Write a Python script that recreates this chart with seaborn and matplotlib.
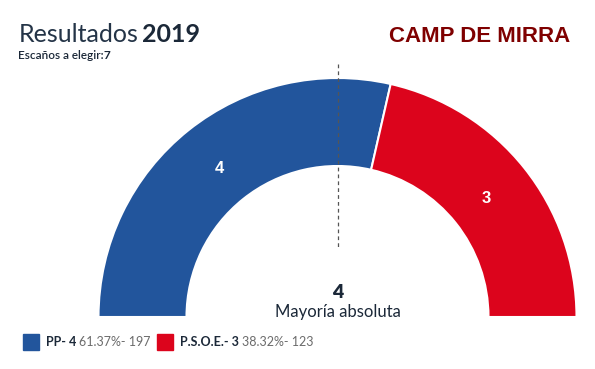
import matplotlib
matplotlib.use("Agg")
import matplotlib.pyplot as plt
import seaborn as sns
import numpy as np

# Datos
partidos = ["PP", "P.S.O.E."]
escanos = [4, 3]
porcentajes = [61.37, 38.32]
votos = [197, 123]
colores = ["#22559C", "#DC041C"]
total_escanos = 7
mayoria = 4
anio = "2019"
municipio = "CAMP DE MIRRA"

sns.set_theme(style="white")
plt.rcParams['font.family'] = ['Lato', 'DejaVu Sans']

W, H = 595, 369
fig = plt.figure(figsize=(W / 100, H / 100), dpi=100)
ax = fig.add_axes([0, 0, 1, 1])

# semicirculo: coordenadas en pixeles (y hacia arriba)
cx, cy = 337.5, H - 317
r_ext, r_int = 239, 151

fracs = [e / total_escanos / 2 for e in escanos]
wedges, _ = ax.pie(fracs, colors=colores, startangle=180, counterclock=False,
                   radius=r_ext, center=(cx, cy), normalize=False, frame=True,
                   wedgeprops={'width': r_ext - r_int, 'edgecolor': 'white', 'linewidth': 1.5})

# etiquetas de escanos dentro de cada sector
for w, e in zip(wedges, escanos):
    ang = np.deg2rad((w.theta1 + w.theta2) / 2)
    rr = 190
    ax.text(cx + rr * np.cos(ang), cy + rr * np.sin(ang), str(e),
            color='white', fontsize=12, fontweight='bold', family='Liberation Sans',
            ha='center', va='center')

# linea de mayoria
ax.plot([cx, cx], [H - 64, H - 247], color='#555555', lw=0.9, ls=(0, (3, 2.5)))

ax.set_xlim(0, W)
ax.set_ylim(0, H)
ax.set_aspect('auto')
ax.axis('off')

# textos de cabecera
ax.text(19, H - 42, "Resultados", fontsize=18, fontweight='normal', color='#243447',
        ha='left', va='baseline')
ax.text(142, H - 42, anio, fontsize=18, fontweight='bold', color='#1b2838',
        ha='left', va='baseline')
t = ax.text(18, H - 59, "Escaños a elegir:", fontsize=8.5, fontweight='semibold',
            color='#1b2838', ha='left', va='baseline')
fig.canvas.draw()
bb = t.get_window_extent()
ax.text(bb.x1, H - 59, str(total_escanos), fontsize=8.5, fontweight='bold',
        color='#1b2838', ha='left', va='baseline')
ax.text(570, H - 42, municipio, fontsize=16, fontweight='bold', family='Liberation Sans',
        color='#7F0000', ha='right', va='baseline')

# mayoria absoluta
ax.text(cx, H - 293, str(mayoria), fontsize=14, fontweight='heavy', color='#1b2838',
        ha='center', va='center')
ax.text(cx, H - 312, "Mayoría absoluta", fontsize=12, color='#1b2838',
        ha='center', va='center')

# leyenda
xs = [23, 157]
for x0, p, e, pc, v, c in zip(xs, partidos, escanos, porcentajes, votos, colores):
    ax.add_patch(plt.Rectangle((x0, H - 350), 16, 16, color=c))
    t = ax.text(x0 + 23, H - 346, f"{p}- {e}", fontsize=9, fontweight='bold',
                color='#1b2838', ha='left', va='baseline')
    fig.canvas.draw()
    bb = t.get_window_extent()
    ax.text(bb.x1 + 3, H - 346, f"{pc:.2f}%- {v}", fontsize=9,
            color='#6b6b6b', ha='left', va='baseline')

fig.savefig("out.png", dpi=100)
